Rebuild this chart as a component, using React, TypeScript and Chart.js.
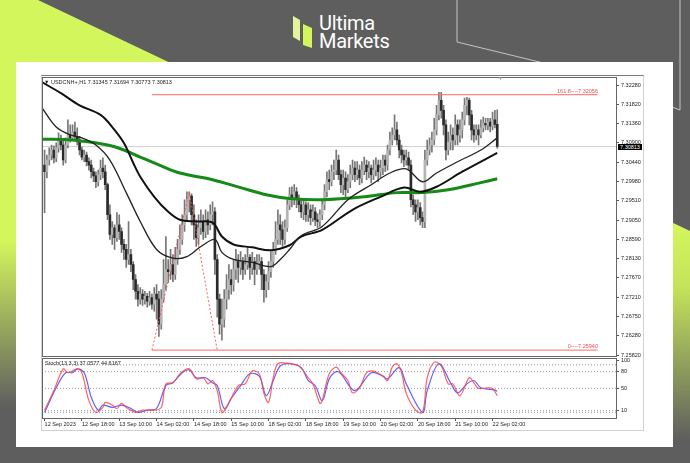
import React, { useEffect, useRef } from 'react';
import { Chart, registerables } from 'chart.js';
Chart.register(...registerables);

// ---------- data ----------
const symbolTitle = 'USDCNH+,H1  7.31345 7.31694 7.30773 7.30813';
const stochTitle = 'Stoch(13,3,3) 37.0577 44.6167';
const timeLabels = ['12 Sep 2023', '12 Sep 18:00', '13 Sep 10:00', '14 Sep 02:00', '14 Sep 18:00', '15 Sep 10:00', '18 Sep 02:00', '18 Sep 18:00', '19 Sep 10:00', '20 Sep 02:00', '20 Sep 18:00', '21 Sep 10:00', '22 Sep 02:00'];
const timeLabelBars = [0, 16, 32, 48, 64, 80, 96, 112, 128, 144, 160, 176, 192];
const priceTicks = [7.3228, 7.3182, 7.3136, 7.309, 7.3044, 7.2998, 7.2951, 7.2905, 7.2859, 7.2813, 7.2767, 7.2721, 7.2675, 7.2628, 7.2582];

const opens = [7.3037, 7.3021, 7.3049, 7.3061, 7.3073, 7.3054, 7.3078, 7.3097, 7.3085, 7.3049,
  7.3085, 7.3109, 7.3102, 7.3116, 7.3106, 7.3097, 7.3073, 7.3056, 7.3061, 7.3045,
  7.3037, 7.3021, 7.3011, 7.2997, 7.3014, 7.3030, 7.3021, 7.2990, 7.2918, 7.2871,
  7.2887, 7.2863, 7.2894, 7.2878, 7.2847, 7.2835, 7.2811, 7.2823, 7.2799, 7.2763,
  7.2735, 7.2716, 7.2728, 7.2716, 7.2723, 7.2711, 7.2720, 7.2704, 7.2728, 7.2716,
  7.2656, 7.2716, 7.2751, 7.2787, 7.2782, 7.2799, 7.2775, 7.2811, 7.2835, 7.2859,
  7.2894, 7.2918, 7.2954, 7.2963, 7.2918, 7.2894, 7.2863, 7.2887, 7.2902, 7.2878,
  7.2906, 7.2894, 7.2918, 7.2925, 7.2811, 7.2716, 7.2656, 7.2668, 7.2716, 7.2739,
  7.2763, 7.2751, 7.2787, 7.2806, 7.2792, 7.2806, 7.2787, 7.2799, 7.2816, 7.2792,
  7.2806, 7.2787, 7.2799, 7.2806, 7.2775, 7.2739, 7.2758, 7.2782, 7.2806, 7.2835,
  7.2859, 7.2894, 7.2882, 7.2859, 7.2887, 7.2942, 7.2966, 7.2954, 7.2973, 7.2954,
  7.2942, 7.2925, 7.2942, 7.2918, 7.2930, 7.2911, 7.2925, 7.2906, 7.2902, 7.2918,
  7.2942, 7.2973, 7.3002, 7.2997, 7.3021, 7.3025, 7.3049, 7.3014, 7.2990, 7.3006,
  7.2978, 7.2997, 7.3014, 7.3030, 7.3014, 7.3025, 7.3006, 7.3025, 7.3037, 7.3021,
  7.3030, 7.3014, 7.3025, 7.3037, 7.3021, 7.3030, 7.3049, 7.3037, 7.3073, 7.3097,
  7.3109, 7.3121, 7.3097, 7.3073, 7.3061, 7.3049, 7.3054, 7.3037, 7.2954, 7.2942,
  7.2925, 7.2935, 7.2911, 7.2902, 7.3049, 7.3073, 7.3085, 7.3097, 7.3121, 7.3157,
  7.3192, 7.3168, 7.3133, 7.3073, 7.3092, 7.3109, 7.3097, 7.3133, 7.3109, 7.3121,
  7.3145, 7.3180, 7.3192, 7.3157, 7.3121, 7.3109, 7.3121, 7.3109, 7.3126, 7.3137,
  7.3133, 7.3140, 7.3130, 7.3145, 7.31345];
const highs = [7.3073, 7.3061, 7.3078, 7.3085, 7.3083, 7.3090, 7.3114, 7.3109, 7.3097, 7.3102,
  7.3145, 7.3133, 7.3133, 7.3140, 7.3126, 7.3106, 7.3080, 7.3073, 7.3068, 7.3054,
  7.3049, 7.3030, 7.3021, 7.3025, 7.3049, 7.3054, 7.3037, 7.2994, 7.2942, 7.2902,
  7.2894, 7.2923, 7.2918, 7.2887, 7.2859, 7.2847, 7.2902, 7.2835, 7.2806, 7.2775,
  7.2751, 7.2744, 7.2739, 7.2735, 7.2730, 7.2735, 7.2728, 7.2744, 7.2751, 7.2735,
  7.2739, 7.2811, 7.2866, 7.2811, 7.2835, 7.2823, 7.2840, 7.2859, 7.2894, 7.2918,
  7.2954, 7.2973, 7.2973, 7.2968, 7.2942, 7.2906, 7.2918, 7.2930, 7.2918, 7.2930,
  7.2925, 7.2942, 7.2949, 7.2935, 7.2823, 7.2728, 7.2716, 7.2739, 7.2775, 7.2799,
  7.2787, 7.2811, 7.2835, 7.2823, 7.2830, 7.2816, 7.2823, 7.2842, 7.2823, 7.2828,
  7.2816, 7.2823, 7.2823, 7.2816, 7.2787, 7.2775, 7.2806, 7.2830, 7.2852, 7.2902,
  7.2930, 7.2918, 7.2902, 7.2906, 7.2954, 7.2983, 7.2985, 7.2990, 7.2983, 7.2966,
  7.2954, 7.2954, 7.2949, 7.2947, 7.2942, 7.2942, 7.2935, 7.2921, 7.2930, 7.2954,
  7.2990, 7.3021, 7.3025, 7.3037, 7.3049, 7.3073, 7.3061, 7.3025, 7.3025, 7.3021,
  7.3014, 7.3037, 7.3049, 7.3045, 7.3045, 7.3037, 7.3045, 7.3056, 7.3049, 7.3045,
  7.3037, 7.3049, 7.3054, 7.3049, 7.3049, 7.3061, 7.3061, 7.3085, 7.3116, 7.3126,
  7.3157, 7.3140, 7.3109, 7.3085, 7.3073, 7.3073, 7.3068, 7.3049, 7.2966, 7.2954,
  7.2954, 7.2947, 7.2925, 7.3073, 7.3097, 7.3102, 7.3116, 7.3149, 7.3180, 7.3211,
  7.3211, 7.3180, 7.3145, 7.3116, 7.3133, 7.3126, 7.3157, 7.3145, 7.3145, 7.3164,
  7.3197, 7.3199, 7.3197, 7.3168, 7.3133, 7.3133, 7.3133, 7.3145, 7.3152, 7.3149,
  7.3149, 7.3149, 7.3164, 7.3168, 7.31694];
const lows = [7.2923, 7.3006, 7.3037, 7.3049, 7.3042, 7.3045, 7.3068, 7.3073, 7.3037, 7.3042,
  7.3078, 7.3092, 7.3097, 7.3097, 7.3085, 7.3061, 7.3049, 7.3045, 7.3035, 7.3025,
  7.3006, 7.2997, 7.2983, 7.2987, 7.3002, 7.3006, 7.2978, 7.2906, 7.2859, 7.2847,
  7.2835, 7.2854, 7.2859, 7.2828, 7.2811, 7.2792, 7.2799, 7.2782, 7.2739, 7.2716,
  7.2699, 7.2704, 7.2701, 7.2704, 7.2697, 7.2701, 7.2692, 7.2687, 7.2668, 7.2627,
  7.2644, 7.2709, 7.2739, 7.2756, 7.2763, 7.2758, 7.2763, 7.2799, 7.2823, 7.2847,
  7.2878, 7.2906, 7.2925, 7.2894, 7.2859, 7.2842, 7.2847, 7.2871, 7.2859, 7.2863,
  7.2871, 7.2882, 7.2894, 7.2775, 7.2673, 7.2632, 7.2618, 7.2649, 7.2692, 7.2716,
  7.2728, 7.2735, 7.2763, 7.2756, 7.2775, 7.2763, 7.2775, 7.2787, 7.2763, 7.2775,
  7.2751, 7.2775, 7.2787, 7.2739, 7.2709, 7.2720, 7.2739, 7.2768, 7.2792, 7.2823,
  7.2847, 7.2847, 7.2842, 7.2847, 7.2878, 7.2930, 7.2937, 7.2942, 7.2935, 7.2925,
  7.2911, 7.2906, 7.2902, 7.2902, 7.2894, 7.2902, 7.2892, 7.2887, 7.2890, 7.2906,
  7.2930, 7.2961, 7.2978, 7.2987, 7.3002, 7.3014, 7.3002, 7.2971, 7.2966, 7.2961,
  7.2971, 7.2983, 7.3002, 7.2997, 7.3002, 7.2990, 7.2994, 7.3014, 7.3002, 7.3006,
  7.2994, 7.3002, 7.3011, 7.2997, 7.3006, 7.3014, 7.3021, 7.3025, 7.3061, 7.3085,
  7.3097, 7.3085, 7.3054, 7.3042, 7.3033, 7.3037, 7.3025, 7.2937, 7.2918, 7.2902,
  7.2906, 7.2894, 7.2887, 7.2887, 7.3037, 7.3061, 7.3068, 7.3085, 7.3109, 7.3145,
  7.3149, 7.3109, 7.3049, 7.3061, 7.3073, 7.3073, 7.3085, 7.3085, 7.3092, 7.3102,
  7.3133, 7.3157, 7.3133, 7.3097, 7.3092, 7.3097, 7.3085, 7.3102, 7.3116, 7.3121,
  7.3121, 7.3116, 7.3121, 7.3126, 7.30773];
const closes = [7.3021, 7.3049, 7.3061, 7.3073, 7.3054, 7.3078, 7.3097, 7.3085, 7.3049, 7.3085,
  7.3109, 7.3102, 7.3116, 7.3106, 7.3097, 7.3073, 7.3056, 7.3061, 7.3045, 7.3037,
  7.3021, 7.3011, 7.2997, 7.3014, 7.3030, 7.3021, 7.2990, 7.2918, 7.2871, 7.2887,
  7.2863, 7.2894, 7.2878, 7.2847, 7.2835, 7.2811, 7.2823, 7.2799, 7.2763, 7.2735,
  7.2716, 7.2728, 7.2716, 7.2723, 7.2711, 7.2720, 7.2704, 7.2728, 7.2716, 7.2656,
  7.2716, 7.2751, 7.2787, 7.2782, 7.2799, 7.2775, 7.2811, 7.2835, 7.2859, 7.2894,
  7.2918, 7.2954, 7.2963, 7.2918, 7.2894, 7.2863, 7.2887, 7.2902, 7.2878, 7.2906,
  7.2894, 7.2918, 7.2925, 7.2811, 7.2716, 7.2656, 7.2668, 7.2716, 7.2739, 7.2763,
  7.2751, 7.2787, 7.2806, 7.2792, 7.2806, 7.2787, 7.2799, 7.2816, 7.2792, 7.2806,
  7.2787, 7.2799, 7.2806, 7.2775, 7.2739, 7.2758, 7.2782, 7.2806, 7.2835, 7.2859,
  7.2894, 7.2882, 7.2859, 7.2887, 7.2942, 7.2966, 7.2954, 7.2973, 7.2954, 7.2942,
  7.2925, 7.2942, 7.2918, 7.2930, 7.2911, 7.2925, 7.2906, 7.2902, 7.2918, 7.2942,
  7.2973, 7.3002, 7.2997, 7.3021, 7.3025, 7.3049, 7.3014, 7.2990, 7.3006, 7.2978,
  7.2997, 7.3014, 7.3030, 7.3014, 7.3025, 7.3006, 7.3025, 7.3037, 7.3021, 7.3030,
  7.3014, 7.3025, 7.3037, 7.3021, 7.3030, 7.3049, 7.3037, 7.3073, 7.3097, 7.3109,
  7.3121, 7.3097, 7.3073, 7.3061, 7.3049, 7.3054, 7.3037, 7.2954, 7.2942, 7.2925,
  7.2935, 7.2911, 7.2902, 7.3049, 7.3073, 7.3085, 7.3097, 7.3121, 7.3157, 7.3192,
  7.3168, 7.3133, 7.3073, 7.3092, 7.3109, 7.3097, 7.3133, 7.3109, 7.3121, 7.3145,
  7.3180, 7.3192, 7.3157, 7.3121, 7.3109, 7.3121, 7.3109, 7.3126, 7.3137, 7.3133,
  7.3140, 7.3130, 7.3145, 7.31345, 7.30813];

// moving averages, read at sampled bars
const maFastBars = [-1, 5, 11, 16, 22, 28, 35, 41, 48, 55, 61, 67, 73, 76, 81, 89, 97, 101, 105, 110, 119, 130, 140, 148, 155, 162, 168, 177, 187, 194];
const maFastVals = [7.3173, 7.3128, 7.3109, 7.3102, 7.3085, 7.3049, 7.2971, 7.2902, 7.2835, 7.2814, 7.2818, 7.2842, 7.2859, 7.2828, 7.2811, 7.2804, 7.2794, 7.2811, 7.2835, 7.2868, 7.2890, 7.2954, 7.2990, 7.3018, 7.3028, 7.2997, 7.3018, 7.3045, 7.3073, 7.3102];
const maSlowBars = [-1, 7, 15, 24, 29, 34, 38, 41, 47, 53, 58, 65, 72, 76, 81, 89, 97, 105, 110, 119, 132, 144, 154, 161, 168, 179, 194];
const maSlowVals = [7.3235, 7.3209, 7.3180, 7.3157, 7.3128, 7.3090, 7.3042, 7.3009, 7.2961, 7.2925, 7.2906, 7.2902, 7.2899, 7.2866, 7.2847, 7.2840, 7.2833, 7.2845, 7.2866, 7.2882, 7.2930, 7.2961, 7.2983, 7.2973, 7.2985, 7.3021, 7.3066];
const maLongBars = [-1, 12, 27, 34, 41, 50, 58, 72, 84, 95, 105, 119, 137, 151, 162, 173, 187, 194];
const maLongVals = [7.3099, 7.3097, 7.3085, 7.3073, 7.3056, 7.3035, 7.3018, 7.3002, 7.2983, 7.2966, 7.2957, 7.2954, 7.2961, 7.2971, 7.2971, 7.2978, 7.2995, 7.3004];

// fibonacci
const fibLevelNames = ['161.8', '0'];
const fibLevelValues = [7.32056, 7.2594];
const fibLineBars = [46, 237];
const fibAnchorBars = [46, 62, 74];
const fibAnchorValues = [7.2594, 7.2972, 7.2594];
const lastPrice = 7.30813;

// stochastic
const stochMainBars = [0, 4, 8, 10, 14, 16, 19, 22, 25, 26, 29, 31, 33, 35, 39, 42, 47, 50, 52, 55, 58, 62, 65, 68, 70, 72, 74, 76, 78, 83, 86, 89, 92, 94, 96, 98, 100, 104, 109, 113, 115, 118, 119, 122, 125, 127, 130, 132, 135, 138, 141, 145, 147, 149, 151, 153, 155, 159, 162, 164, 167, 170, 173, 175, 178, 182, 184, 186, 190, 192, 194];
const stochMainVals = [11, 46, 85, 78, 85, 78, 28, 7, 16, 25, 20, 14, 23, 16, 7, 11, 11, 16, 58, 60, 76, 85, 67, 69, 58, 64, 46, 7, 16, 55, 58, 81, 76, 41, 25, 69, 94, 95, 90, 69, 58, 23, 28, 76, 88, 78, 64, 42, 51, 78, 81, 72, 64, 88, 94, 78, 41, 11, 7, 69, 97, 90, 58, 58, 37, 69, 60, 50, 51, 50, 37.06];
const stochSignalBars = [0, 5, 9, 12, 14, 17, 20, 23, 25, 29, 33, 37, 40, 44, 48, 52, 55, 59, 62, 65, 69, 72, 74, 77, 80, 84, 88, 92, 95, 98, 101, 105, 110, 113, 116, 119, 122, 125, 127, 133, 140, 145, 147, 152, 155, 162, 164, 169, 174, 177, 181, 184, 187, 193, 194];
const stochSignalVals = [7, 51, 78, 78, 85, 78, 34, 11, 20, 16, 20, 14, 7, 11, 14, 55, 60, 78, 83, 69, 69, 60, 55, 14, 32, 55, 76, 72, 37, 64, 90, 94, 87, 64, 55, 28, 67, 80, 76, 46, 78, 72, 67, 87, 58, 7, 46, 94, 60, 42, 58, 64, 51, 47, 44.62];
const stochTicks = [100, 80, 50, 10];
const stochLevels = [92, 80, 50, 10, 7];

// ---------- styling ----------
const X_MIN = -1.1;
const X_MAX = 244.9;
const AXIS_FONT = { family: 'Liberation Sans', size: 5.5 };
const LIME = '#d4f65d';
const GREY = '#5e5e5e';

function pts(xs: number[], ys: number[]) {
  return xs.map((x, i) => ({ x, y: ys[i] }));
}

function PriceChart() {
  const ref = useRef<HTMLCanvasElement>(null);
  useEffect(() => {
    const idx = closes.map((_, i) => i);
    const bull = idx.map((i) => closes[i] >= opens[i]);
    const chart = new Chart(ref.current!, {
      type: 'bar',
      data: {
        datasets: [
          {
            type: 'line', label: 'last', data: pts([X_MIN, X_MAX], [lastPrice, lastPrice]),
            borderColor: '#d2d2d2', borderWidth: 1, pointRadius: 0, order: 20,
          } as any,
          {
            type: 'bar', label: 'wick', data: idx.map((i) => ({ x: i, y: [lows[i], highs[i]] })),
            backgroundColor: '#767676', barThickness: 1, grouped: false, order: 15,
          } as any,
          {
            type: 'bar', label: 'body', data: idx.map((i) => ({ x: i, y: [opens[i], closes[i]] })),
            backgroundColor: idx.map((i) => (bull[i] ? '#b4b4b4' : '#2a2a2a')),
            barThickness: 2, grouped: false, minBarLength: 1, order: 14,
          } as any,
          ...fibLevelValues.map((v) => ({
            type: 'line', label: 'fib', data: pts(fibLineBars, [v, v]),
            borderColor: 'rgba(255,110,110,0.85)', borderWidth: 1.3, pointRadius: 0, order: 8,
          } as any)),
          {
            type: 'line', label: 'fibTrend', data: pts(fibAnchorBars, fibAnchorValues),
            borderColor: 'rgba(255,80,80,0.9)', borderWidth: 1, borderDash: [2, 2], pointRadius: 0, order: 7,
          } as any,
          {
            type: 'line', label: 'MA long', data: pts(maLongBars, maLongVals),
            borderColor: '#168a16', borderWidth: 3, pointRadius: 0, tension: 0.35, order: 3,
          } as any,
          {
            type: 'line', label: 'MA slow', data: pts(maSlowBars, maSlowVals),
            borderColor: '#111111', borderWidth: 2, pointRadius: 0, tension: 0.35, order: 2,
          } as any,
          {
            type: 'line', label: 'MA fast', data: pts(maFastBars, maFastVals),
            borderColor: '#222222', borderWidth: 1.3, pointRadius: 0, tension: 0.35, order: 1,
          } as any,
        ],
      },
      options: {
        animation: false,
        responsive: false,
        maintainAspectRatio: false,
        layout: { padding: { top: 5, bottom: 6, left: 0, right: 0 } },
        plugins: { legend: { display: false }, tooltip: { enabled: false } },
        scales: {
          x: { type: 'linear', min: X_MIN, max: X_MAX, display: false, offset: false },
          y: {
            type: 'linear', position: 'right', min: 7.258, max: 7.3247,
            afterFit: (s: any) => { s.width = 27; },
            afterBuildTicks: (s: any) => { s.ticks = priceTicks.map((v) => ({ value: v })); },
            ticks: { font: AXIS_FONT, color: '#222', padding: 2, autoSkip: false, callback: (v: any) => Number(v).toFixed(5) },
            grid: { drawOnChartArea: false, drawTicks: true, tickLength: 3, color: '#555' },
            border: { display: true, color: '#555' },
          },
        },
      } as any,
    });
    return () => chart.destroy();
  }, []);
  return <canvas ref={ref} width={601} height={290} style={{ position: 'absolute', left: 42, top: 72, width: 601, height: 290 }} />;
}

function StochChart() {
  const ref = useRef<HTMLCanvasElement>(null);
  useEffect(() => {
    const chart = new Chart(ref.current!, {
      type: 'line',
      data: {
        datasets: [
          ...stochLevels.map((v) => ({
            label: 'level', data: pts([X_MIN, X_MAX], [v, v]), borderColor: '#8a98a8', borderWidth: 1,
            borderDash: [1, 2], pointRadius: 0, order: 5,
          })),
          {
            label: 'signal', data: pts(stochSignalBars, stochSignalVals), borderColor: 'rgba(70,70,255,0.85)',
            borderWidth: 1.2, pointRadius: 0, tension: 0.35, order: 2,
          },
          {
            label: 'main', data: pts(stochMainBars, stochMainVals), borderColor: 'rgba(255,70,70,0.85)',
            borderWidth: 1.2, pointRadius: 0, tension: 0.35, order: 1,
          },
        ],
      },
      options: {
        animation: false,
        responsive: false,
        maintainAspectRatio: false,
        layout: { padding: { top: 4, bottom: 0, left: 0, right: 0 } },
        plugins: { legend: { display: false }, tooltip: { enabled: false } },
        scales: {
          x: {
            type: 'linear', min: X_MIN, max: X_MAX, position: 'bottom',
            afterFit: (s: any) => { s.height = 16; },
            afterBuildTicks: (s: any) => { s.ticks = timeLabelBars.map((v) => ({ value: v })); },
            ticks: {
              font: AXIS_FONT, color: '#222', padding: 0, autoSkip: false, maxRotation: 0, align: 'start',
              callback: (v: any) => timeLabels[timeLabelBars.indexOf(Number(v))] ?? '',
            },
            grid: { drawOnChartArea: false, drawTicks: true, tickLength: 3, color: '#555' },
            border: { display: false },
          },
          y: {
            type: 'linear', position: 'right', min: -3, max: 102,
            afterFit: (s: any) => { s.width = 27; },
            afterBuildTicks: (s: any) => { s.ticks = stochTicks.map((v) => ({ value: v })); },
            ticks: { font: AXIS_FONT, color: '#222', padding: 2, autoSkip: false },
            grid: { drawOnChartArea: false, drawTicks: true, tickLength: 3, color: '#555' },
            border: { display: true, color: '#555' },
          },
        },
      } as any,
    });
    return () => chart.destroy();
  }, []);
  return <canvas ref={ref} width={601} height={80} style={{ position: 'absolute', left: 42, top: 354, width: 601, height: 80 }} />;
}

const tiny: React.CSSProperties = { position: 'absolute', fontFamily: 'Liberation Sans, Arial, sans-serif', fontSize: 5.5, lineHeight: '6px', whiteSpace: 'nowrap' };

export default function App() {
  return (
    <div style={{ position: 'fixed', left: 0, top: 0, width: 690, height: 463, overflow: 'hidden', background: GREY }}>
      <svg width={690} height={463} style={{ position: 'absolute', left: 0, top: 0 }}>
        <defs>
          <linearGradient id="lgL" x1="0" y1="0" x2="0" y2="463" gradientUnits="userSpaceOnUse">
            <stop offset="0" stopColor={LIME} />
            <stop offset="0.52" stopColor={LIME} />
            <stop offset="0.88" stopColor={GREY} />
          </linearGradient>
          <linearGradient id="lgR" x1="0" y1="222" x2="0" y2="440" gradientUnits="userSpaceOnUse">
            <stop offset="0" stopColor={LIME} />
            <stop offset="0.3" stopColor="#c4e35a" />
            <stop offset="1" stopColor={GREY} />
          </linearGradient>
        </defs>
        <polygon points="0,0 38,0 200,77 200,463 0,463" fill="url(#lgL)" />
        <polygon points="650,212 690,231 690,463 650,463" fill="url(#lgR)" />
        <polyline points="457,0 457,42 560,67" fill="none" stroke="#c4c4c4" strokeWidth={1} />
        <polyline points="680,0 680,110 672,107" fill="none" stroke="#c4c4c4" strokeWidth={1} />
        <polygon points="293,16 300,20 300,41 293,37" fill="#e3f59c" />
        <polygon points="303,24 312,28 312,48 303,45" fill={LIME} />
      </svg>
      <div style={{ position: 'absolute', left: 319, top: 14, color: '#fff', fontFamily: 'Roboto, sans-serif', fontSize: 20, lineHeight: '18px', fontWeight: 400, letterSpacing: -0.3 }}>
        <div>Ultima</div>
        <div>Markets</div>
      </div>
      {/* card */}
      <div style={{ position: 'absolute', left: 16, top: 62, width: 657, height: 385, background: '#fff' }} />
      {/* MT4 window frame */}
      <div style={{ position: 'absolute', left: 41, top: 75, width: 603, height: 356, border: '1px solid #d0d0d0', borderTop: '1px solid #7a7a7a', boxSizing: 'border-box' }} />
      <PriceChart />
      <StochChart />
      <div style={{ position: 'absolute', left: 42, top: 77, width: 575, height: 280, border: '1px solid #666', boxSizing: 'border-box', pointerEvents: 'none' }} />
      <div style={{ position: 'absolute', left: 42, top: 358, width: 575, height: 61, border: '1px solid #666', boxSizing: 'border-box', pointerEvents: 'none' }} />
      {/* overlay texts */}
      <div style={{ ...tiny, left: 44, top: 79, color: '#222' }}>{'\u25BC '}{symbolTitle}</div>
      <div style={{ ...tiny, left: 45, top: 360, color: '#222' }}>{stochTitle}</div>
      <div style={{ ...tiny, left: 498, top: 75, color: '#999', fontSize: 5 }}>{'\u25BC'}</div>
      <div style={{ ...tiny, right: 690 - 598, top: 88, color: '#f05050' }}>{fibLevelNames[0]}----{fibLevelValues[0].toFixed(5)}</div>
      <div style={{ ...tiny, right: 690 - 598, top: 343, color: '#f05050' }}>{fibLevelNames[1]}----{fibLevelValues[1].toFixed(5)}</div>
      <div style={{ ...tiny, left: 618, top: 144, width: 24, height: 6, background: '#000', color: '#fff', textAlign: 'center' }}>{lastPrice.toFixed(5)}</div>
    </div>
  );
}
